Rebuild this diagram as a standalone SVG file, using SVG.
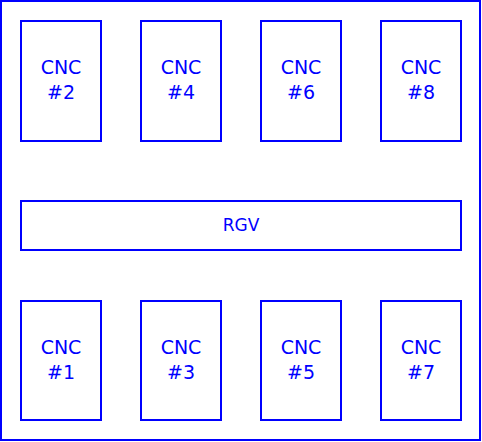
<svg xmlns="http://www.w3.org/2000/svg" width="482" height="442" viewBox="0 0 482 442">
<style>
.b{fill:#fff;stroke:#0000ff;stroke-width:2}
.t{fill:#0000ff;font-family:"DejaVu Sans",sans-serif;font-size:19px;text-anchor:middle}
.r{fill:#0000ff;font-family:"DejaVu Sans",sans-serif;font-size:17px;text-anchor:middle}
</style>
<rect width="482" height="442" fill="#fff"/>
<g id="frame"><rect class="b" x="1" y="1" width="479" height="439"/></g>
<g id="cnc2"><rect class="b" x="21" y="21" width="80" height="120"/><text class="t" x="61" y="74">CNC</text><text class="t" x="61" y="99">#2</text></g>
<g id="cnc4"><rect class="b" x="141" y="21" width="80" height="120"/><text class="t" x="181" y="74">CNC</text><text class="t" x="181" y="99">#4</text></g>
<g id="cnc6"><rect class="b" x="261" y="21" width="80" height="120"/><text class="t" x="301" y="74">CNC</text><text class="t" x="301" y="99">#6</text></g>
<g id="cnc8"><rect class="b" x="381" y="21" width="80" height="120"/><text class="t" x="421" y="74">CNC</text><text class="t" x="421" y="99">#8</text></g>
<g id="rgv"><rect class="b" x="21" y="201" width="440" height="49"/><text class="r" x="241" y="231">RGV</text></g>
<g id="cnc1"><rect class="b" x="21" y="301" width="80" height="119"/><text class="t" x="61" y="354">CNC</text><text class="t" x="61" y="379">#1</text></g>
<g id="cnc3"><rect class="b" x="141" y="301" width="80" height="119"/><text class="t" x="181" y="354">CNC</text><text class="t" x="181" y="379">#3</text></g>
<g id="cnc5"><rect class="b" x="261" y="301" width="80" height="119"/><text class="t" x="301" y="354">CNC</text><text class="t" x="301" y="379">#5</text></g>
<g id="cnc7"><rect class="b" x="381" y="301" width="80" height="119"/><text class="t" x="421" y="354">CNC</text><text class="t" x="421" y="379">#7</text></g>
<g id="connectors"></g>
</svg>
